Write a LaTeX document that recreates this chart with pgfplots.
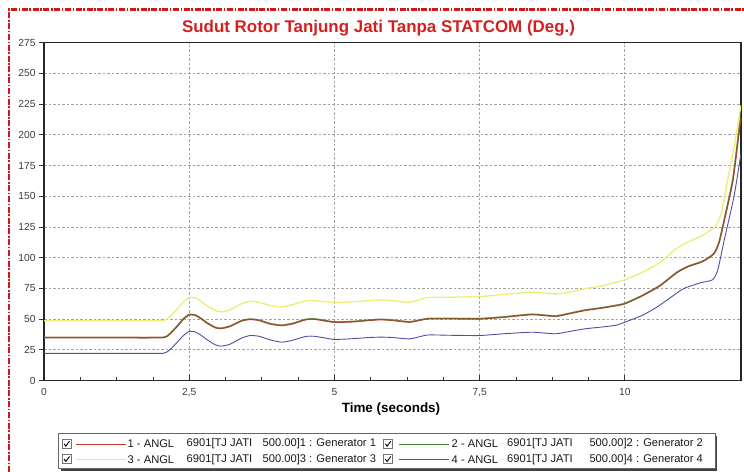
\documentclass[border=0pt]{standalone}
\usepackage{fontspec}
\setmainfont{Liberation Sans}
\usepackage{pgfplots}
\pgfplotsset{compat=1.18}

\definecolor{titlered}{HTML}{D41F1F}
\definecolor{framered}{HTML}{D01818}
\definecolor{genred}{HTML}{BC3C2E}
\definecolor{gengreen}{HTML}{3F7F2C}
\definecolor{genyellow}{HTML}{EDED74}
\definecolor{genblue}{HTML}{4E4EA6}
\definecolor{gridgray}{HTML}{A4A4A4}
\definecolor{ticktext}{HTML}{3C3C3C}

\begin{document}
\begin{tikzpicture}[x=1bp,y=1bp]
\useasboundingbox (0,0) rectangle (744,472);

% dash-dotted page frame
\draw[framered, line width=2.4bp, dash pattern=on 6bp off 1.6bp on 1.6bp off 1.6bp]
  (9,0) -- (9,462.5) -- (744,462.5);

% chart title
\node[font=\fontsize{17}{20}\selectfont\bfseries, text=titlered] at (378.5,444) {Sudut Rotor Tanjung Jati Tanpa STATCOM (Deg.)};

\begin{axis}[
  at={(44bp,91.5bp)}, anchor=south west,
  scale only axis, width=697bp, height=337.8bp,
  xmin=0, xmax=12, ymin=0, ymax=275,
  xtick={0,2.5,5,7.5,10},
  xticklabels={0,{2,5},5,{7,5},10},
  ytick={0,25,...,275},
  minor x tick num=3,
  tick pos=left,
  xtick align=inside,
  ytick align=outside,
  major tick length=5bp, minor tick length=3bp,
  tick style={black!80, line width=0.8bp},
  grid=major,
  grid style={gridgray, line width=0.7bp, dash pattern=on 2.5bp off 2bp},
  axis line style={black!85, line width=1.3bp},
  /pgf/number format/assume math mode=true,
  tick label style={font=\fontsize{10.3}{12}\selectfont, text=ticktext},
  xticklabel style={yshift=-4bp},
  every axis plot/.append style={smooth, tension=0.35},
]

% Generator 1
\addplot[genred, line width=1.5bp] coordinates {
 (0,34.8) (1.0,34.8) (1.98,34.8) (2.05,34.9) (2.12,36) (2.2,39.5) (2.3,44.5) (2.4,50) (2.5,53.5)
 (2.6,53.2) (2.7,50.5) (2.8,47)
 (2.95,43) (3.05,42.4) (3.2,44) (3.4,48.5) (3.55,49.8) (3.7,49) (3.9,46)
 (4.1,44.8) (4.3,46.5) (4.5,49.5) (4.65,50) (4.85,48.5) (5.0,47.5)
 (5.3,47.8) (5.6,49) (5.8,49.6) (6.0,49) (6.3,47.6) (6.6,50.2) (7.0,50.3)
 (7.5,50.2) (7.9,51.5) (8.4,53.7) (8.8,52.3) (9.0,54) (9.3,57) (9.6,59)
 (9.85,61) (10.0,62.5) (10.3,69) (10.6,77) (10.9,88) (11.1,93) (11.33,96.7)
 (11.53,103) (11.62,112) (11.71,130) (11.86,163) (11.97,204) (12.0,214)
};
% Generator 2
\addplot[gengreen, line width=1.5bp, opacity=0.5] coordinates {
 (0,35.1) (1.0,35.1) (1.98,35.1) (2.05,35.2) (2.12,36.3) (2.2,39.8) (2.3,44.8) (2.4,50.3) (2.5,53.8)
 (2.6,53.5) (2.7,50.8) (2.8,47.3)
 (2.95,43.3) (3.05,42.7) (3.2,44.3) (3.4,48.8) (3.55,50.1) (3.7,49.3) (3.9,46.3)
 (4.1,45.1) (4.3,46.8) (4.5,49.8) (4.65,50.3) (4.85,48.8) (5.0,47.8)
 (5.3,48.1) (5.6,49.3) (5.8,49.9) (6.0,49.3) (6.3,47.9) (6.6,50.5) (7.0,50.6)
 (7.5,50.5) (7.9,51.8) (8.4,54) (8.8,52.6) (9.0,54.3) (9.3,57.3) (9.6,59.3)
 (9.85,61.3) (10.0,62.8) (10.3,69.3) (10.6,77.3) (10.9,88.3) (11.1,93.3) (11.33,97)
 (11.53,103.4) (11.62,112.5) (11.71,131) (11.86,165) (11.97,207) (12.0,217)
};
% Generator 3
\addplot[genyellow, line width=1.3bp] coordinates {
 (0,48.6) (1.0,48.6) (1.98,48.6) (2.05,48.7) (2.12,50) (2.2,53.5) (2.3,58.5) (2.4,64) (2.5,67.6)
 (2.6,67.3) (2.7,64.5) (2.8,61)
 (2.95,57) (3.05,55.9) (3.2,57.5) (3.4,62.5) (3.55,64.5) (3.7,63.5) (3.9,61)
 (4.1,60) (4.3,62) (4.5,64.8) (4.65,65) (4.85,64) (5.0,63.5)
 (5.3,64) (5.6,65) (5.8,65.6) (6.0,65) (6.3,63.7) (6.6,67.5) (7.0,67.8)
 (7.5,68.3) (7.9,70) (8.4,71.9) (8.8,70.5) (9.0,71.5) (9.3,74.6) (9.6,77)
 (9.85,80) (10.0,82) (10.3,88) (10.6,96) (10.9,108) (11.1,113) (11.35,118.5)
 (11.55,125) (11.66,136) (11.77,163) (11.88,190) (12.0,224)
};
% Generator 4
\addplot[genblue, line width=0.9bp] coordinates {
 (0,22.1) (1.0,22.1) (1.98,22.1) (2.05,22.2) (2.12,23.3) (2.2,26.5) (2.3,31.5) (2.4,36.5) (2.5,40)
 (2.6,39.6) (2.7,37) (2.8,33.5)
 (2.95,29) (3.05,28) (3.2,29.5) (3.4,34.5) (3.55,36.6) (3.7,36) (3.9,33)
 (4.1,31.2) (4.3,33) (4.5,35.8) (4.65,36) (4.85,34.5) (5.0,33.4)
 (5.3,34) (5.6,35) (5.8,35.3) (6.0,35) (6.3,33.9) (6.6,37) (7.0,36.8)
 (7.5,36.6) (7.9,38) (8.4,39.3) (8.8,38) (9.0,39.5) (9.3,42) (9.6,43.5)
 (9.85,45) (10.0,47.5) (10.3,53) (10.56,60) (10.8,68) (11.02,75) (11.3,79.5)
 (11.51,82) (11.6,90) (11.71,114) (11.88,150) (12.0,185)
};
\end{axis}

% axis title
\node[font=\fontsize{13.5}{16}\selectfont\bfseries] at (391,63) {Time (seconds)};

% legend frame with shadow
\fill[black!75] (61,1.2) rectangle (717,36);
\draw[black!60, line width=0.8bp, fill=white] (58.3,3.2) rectangle (715,38.7);

% legend entries
\tikzset{
  chk/.pic={
    \draw[black!55, line width=0.6bp, fill=white] (-4.5,-4.5) rectangle (4.5,4.5);
    \draw[black, line width=0.9bp] (-2.6,0.2) -- (-0.9,-2.2) -- (2.8,2.8);
  },
  legtext/.style={font=\fontsize{11.2}{13}\selectfont, anchor=west, inner sep=0pt, text=black!90}
}
\foreach \cx/\lx/\ta/\tb/\yy/\col/\lab in {
  66.7/76/127.5/186.5/28/genred/{1 - ANGL}%
  , 388/399.3/451.5/507/28/gengreen/{2 - ANGL}%
  , 66.7/76/127.5/186.5/12.7/genyellow/{3 - ANGL}%
  , 388/399.3/451.5/507/12.7/genblue/{4 - ANGL}}{
  \pic at (\cx,\yy) {chk};
  \draw[\col, line width=0.7bp] (\lx,\yy) -- ++(49.5,0);
  \node[legtext] at (\ta,\yy) {\lab};
  \node[legtext] at (\tb,\yy) {6901[TJ JATI};
}
\node[legtext] at (262.5,28) {500.00]1 : Generator 1};
\node[legtext] at (589.3,28) {500.00]2 : Generator 2};
\node[legtext] at (262.5,12.7) {500.00]3 : Generator 3};
\node[legtext] at (589.3,12.7) {500.00]4 : Generator 4};
\end{tikzpicture}
\end{document}
